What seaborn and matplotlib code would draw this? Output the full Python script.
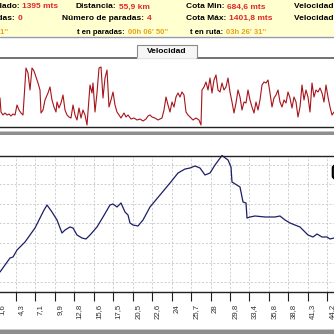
import matplotlib
matplotlib.use("Agg")
import matplotlib.pyplot as plt
import matplotlib.transforms as mtransforms
from matplotlib.patches import Rectangle, FancyBboxPatch
from matplotlib.text import Annotation
import pandas as pd
import seaborn as sns

# ---- data -------------------------------------------------------------
# speed profile: time (min) and speed (km/h)
vel_t = [0, 0.5, 1.5, 2.5, 3.5, 4.5, 5.5, 6.5, 7.5, 8.5, 9.5, 10.5, 11.5, 13, 14, 15,
         16, 17, 18, 19, 20, 20.5, 21.5, 22.5, 24, 25, 26, 27, 28, 28.5, 29.5, 30.5,
         31.5, 32.5, 33.5, 34.5, 35.5, 36.5, 37.5, 38.5, 39.5, 40.5, 41.5, 42.5, 43.5,
         44, 45, 46, 46.5, 47.5, 48.5, 49.5, 50.5, 51.5, 52.5, 53.5, 54.5, 55.5, 56.5,
         57.5, 58.5, 59.5, 60.5, 62, 63, 64, 65.5, 67, 68.5, 70, 71.5, 73, 74, 75, 76,
         77.5, 79, 80, 81, 82, 83, 84, 85, 86, 87, 88, 89, 90, 91, 92, 93, 94, 95, 96.5,
         98, 99.5, 100.5, 101, 102, 103, 104, 105, 106, 107, 108, 109, 110, 111, 112,
         113, 114, 115, 116, 117, 118, 119, 120, 121, 122, 123, 124, 125, 126, 127, 128,
         129, 130, 131, 132, 133, 134, 135, 136, 137, 138, 139, 140, 141, 142, 143, 144,
         145, 146, 147, 148, 149, 150, 151, 152, 153, 154, 155, 156, 157, 158, 159, 160,
         161, 162, 163, 164, 165, 166, 167]
vel = [23.2, 12.0, 9.6, 11.2, 9.6, 10.4, 8.8, 10.4, 9.6, 17.6, 13.6, 11.2, 9.6, 47.2,
       43.2, 29.6, 47.2, 44.8, 40.0, 35.2, 29.6, 11.2, 13.6, 21.6, 27.2, 32.0, 21.6,
       16.0, 12.0, 20.0, 15.2, 19.2, 25.6, 13.6, 9.6, 8.0, 7.2, 17.6, 9.6, 5.6, 15.2,
       7.2, 13.6, 9.6, 1.6, 12.0, 33.6, 27.2, 35.2, 12.0, 27.2, 47.2, 48.0, 23.2, 39.2,
       45.6, 16.0, 21.6, 28.0, 17.6, 12.0, 9.6, 7.2, 11.2, 8.0, 9.6, 6.4, 7.2, 5.6, 6.4,
       4.8, 6.4, 8.8, 9.6, 8.0, 7.2, 5.6, 6.4, 7.2, 13.6, 24.0, 17.6, 12.0, 20.0, 16.0,
       24.0, 27.2, 24.0, 28.0, 25.6, 12.0, 9.6, 8.0, 5.6, 7.2, 5.6, 1.6, 29.6, 32.0,
       36.0, 29.6, 39.2, 27.2, 37.6, 41.6, 29.6, 28.0, 35.2, 29.6, 32.0, 39.2, 28.0,
       20.0, 11.2, 19.2, 29.6, 24.0, 13.6, 20.0, 19.2, 29.6, 21.6, 16.0, 11.2, 20.0,
       13.6, 21.6, 33.6, 36.0, 35.2, 37.6, 27.2, 16.0, 23.2, 25.6, 29.6, 20.0, 16.0,
       21.6, 19.2, 28.0, 23.2, 15.2, 24.0, 20.0, 8.0, 16.0, 33.6, 21.6, 29.6, 24.0,
       12.0, 35.2, 24.0, 29.6, 28.0, 31.2, 27.2, 20.0, 33.6, 24.0, 16.0, 9.6, 12.0]

# altitude profile: time (min) and altitude (m)
alt_t = [0, 2.5, 5, 6.5, 8.5, 10, 12.5, 15, 17.5, 20, 22, 23.5, 26, 28.5, 31, 32.5,
         35, 36.5, 38.5, 41, 43, 45, 48.5, 51.5, 55, 56.5, 58.5, 60.5, 62.5, 64, 65,
         66.5, 69, 71.5, 75, 80, 85, 89, 92.5, 95, 97.5, 100, 102.5, 105, 107.5, 111,
         114, 115.5, 116, 120, 121.5, 123, 123.5, 125, 127.5, 132.5, 137.5, 140, 142.5,
         145, 150, 154, 156.5, 158.5, 161, 163.5, 165, 167]
alt = [789.7, 826.5, 863.2, 868.5, 905.0, 921.0, 947.3, 984.1, 1020.9, 1073.4,
       1115.0, 1141.7, 1104.9, 1062.9, 994.6, 1010.3, 1026.1, 1020.9, 984.1, 968.3,
       963.1, 984.1, 1026.1, 1078.7, 1141.7, 1147.0, 1131.2, 1152.2, 1104.9, 1089.2,
       1047.1, 1036.6, 1031.4, 1062.9, 1131.2, 1194.2, 1257.3, 1309.8, 1330.8,
       1336.1, 1346.6, 1336.1, 1299.3, 1309.8, 1351.8, 1401.8, 1378.1, 1341.3,
       1262.5, 1236.3, 1157.5, 1152.2, 1073.4, 1078.7, 1083.9, 1078.7, 1078.7,
       1083.9, 1062.9, 1047.1, 1026.1, 984.1, 973.6, 989.3, 973.6, 973.6, 963.1, 968.3]

dist_labels = ["1,6", "4,3", "7,1", "9,9", "12,8", "15,6", "17,5", "20,5", "22,6",
               "24", "25,7", "28", "29,8", "33,4", "35,8", "38,8", "41,3", "44,2"]

alt_min, alt_max = 684.6, 1401.8

# summary header: (label, value, value colour) per row and column
RED, GOLD = "#e0282c", "#e6a21c"
header_left = [("Desnivel acumulado:", "1395 mts", RED),
               ("Paradas:", "0", RED)]
header_mid = [("Distancia:", "55,9 km", RED),
              ("Número de paradas:", "4", RED),
              ("t en paradas:", "00h 06' 50''", GOLD)]
header_right = [("Cota Min:", "684,6 mts", RED),
                ("Cota Máx:", "1401,8 mts", RED),
                ("t en ruta:", "03h 26' 31''", GOLD)]
header_far = ["Velocidad media:", "Velocidad máxima:"]
total_time = "03h 33' 21''"

# ---- figure -----------------------------------------------------------
sns.set_style("white")
plt.rcParams["font.family"] = ["Liberation Sans", "DejaVu Sans"]

W = H = 334
fig = plt.figure(figsize=(W / 100, H / 100), dpi=100)
fig.patch.set_facecolor("white")


def fy(y):
    return 1 - y / H


def fx(x):
    return x / W


# header band
fig.add_artist(Rectangle((0, fy(36)), 1, 36 / H, transform=fig.transFigure,
                         facecolor="#ffffcf", edgecolor="none", zorder=0))
fig.add_artist(plt.Line2D([0, 1], [fy(36.5), fy(36.5)], transform=fig.transFigure,
                          color="#9a9a9a", lw=1.0))

rows_y = [7, 18.5, 32]
row_fs = [6.0, 6.0, 5.5]


def pair_right(x_end, y, label, value, color, fs):
    t = fig.text(fx(x_end), fy(y), label, ha="right", va="center",
                 fontsize=fs, fontweight="bold", color="black")
    fig.text(fx(x_end + 2.5), fy(y), value, ha="left", va="center",
             fontsize=fs, fontweight="bold", color=color)
    return t


def pair_left(x_start, y, label, value, color, fs):
    t = fig.text(fx(x_start), fy(y), label, ha="left", va="center",
                 fontsize=fs, fontweight="bold", color="black")
    fig.add_artist(Annotation(
        value, xy=(1, 0.5), xycoords=t, xytext=(2.0, 0), textcoords="offset points",
        ha="left", va="center", fontsize=fs, fontweight="bold", color=color,
        annotation_clip=False))
    return t


pair_right(19.5, rows_y[0], *header_left[0], row_fs[0])
pair_right(15.5, rows_y[1], *header_left[1], row_fs[1])
fig.text(fx(8.5), fy(rows_y[2]), total_time, ha="right", va="center",
         fontsize=row_fs[2], fontweight="bold", color=GOLD)

for (lab, val, col), y, xs, fs in zip(header_mid, rows_y, [76, 62, 77], row_fs):
    pair_left(xs, y, lab, val, col, fs)
for (lab, val, col), y, xs, fs in zip(header_right, rows_y, [186, 186, 190], row_fs):
    pair_left(xs, y, lab, val, col, fs)
for lab, y in zip(header_far, rows_y[:2]):
    fig.text(fx(293.5), fy(y), lab, ha="left", va="center",
             fontsize=row_fs[0], fontweight="bold", color="black")

# shared time axis placement (axes start a little left of the canvas)
x_left_px = -3.4
t0 = -1.7
t1 = 167
ax_left = fx(x_left_px)
ax_width = (W - x_left_px) / W
tick_step = 9.725
tick_pos = [t0 + tick_step * k for k in range(len(dist_labels))]

# ---- speed panel ------------------------------------------------------
ax_v = fig.add_axes([ax_left, fy(127), ax_width, (127 - 57.5) / H])
df_v = pd.DataFrame({"t": vel_t, "v": vel})
sns.lineplot(data=df_v, x="t", y="v", ax=ax_v, color="#a8141c", lw=0.8)
ax_v.set_xlim(t0, t1)
ax_v.set_ylim(0, 55.6)
ax_v.set_xticks([])
ax_v.set_yticks([])
ax_v.set_xlabel("")
ax_v.set_ylabel("")
for s in ["left", "right"]:
    ax_v.spines[s].set_visible(False)
ax_v.spines["top"].set_color("#5a5a5a")
ax_v.spines["top"].set_linewidth(1.2)
ax_v.spines["bottom"].set_color("#222222")
ax_v.spines["bottom"].set_linewidth(1.0)

# tab label on top of the speed panel
fig.add_artist(Rectangle((fx(137), fy(58)), 60 / W, 13 / H, transform=fig.transFigure,
                         facecolor="#f6f6f6", edgecolor="#8a8a8a", lw=0.8, zorder=5))
fig.add_artist(plt.Line2D([fx(137.6), fx(196.4)], [fy(58), fy(58)],
                          transform=fig.transFigure, color="#f6f6f6", lw=1.2, zorder=6))
fig.text(fx(167), fy(51.5), "Velocidad", ha="center", va="center", fontsize=6.0,
         fontweight="bold", color="black", zorder=7)

# separator bar between panels
fig.add_artist(Rectangle((0, fy(135)), 1, 3 / H, transform=fig.transFigure,
                         facecolor="#8e8e8e", edgecolor="none"))
fig.add_artist(Rectangle((0, fy(132)), 1, 1 / H, transform=fig.transFigure,
                         facecolor="#c4c4c4", edgecolor="none"))

# ---- altitude panel ---------------------------------------------------
ax_e = fig.add_axes([ax_left, fy(292), ax_width, (292 - 155.5) / H])
df_e = pd.DataFrame({"t": alt_t, "alt": alt})
sns.lineplot(data=df_e, x="t", y="alt", ax=ax_e, color="#1c1f66", lw=0.9)
for ln in ax_e.lines:
    ln.set_clip_on(False)
ax_e.set_xlim(t0, t1)
ax_e.set_ylim(alt_min, alt_max)
ax_e.set_xlabel("")
ax_e.set_ylabel("")

grid_frac = [(10 + 19.5 * k) / 136.5 for k in range(7)]
ax_e.set_yticks([alt_min + f * (alt_max - alt_min) for f in grid_frac])
ax_e.tick_params(axis="y", left=False, labelleft=False)
ax_e.set_xticks(tick_pos)
ax_e.set_xticklabels(dist_labels, rotation=90, fontsize=5.6, color="#303030")
ax_e.tick_params(axis="x", direction="out", length=6.5, width=0.8, color="#202020",
                 pad=2.0, bottom=True)
shift = mtransforms.ScaledTranslation(5 / 100, 0, fig.dpi_scale_trans)
for lab in ax_e.get_xticklabels():
    lab.set_va("top")
    lab.set_transform(lab.get_transform() + shift)
ax_e.grid(True, color="#c8c8c8", ls=(0, (2.5, 2.0)), lw=0.6)
for s in ["left", "right"]:
    ax_e.spines[s].set_visible(False)
for s in ["top", "bottom"]:
    ax_e.spines[s].set_color("#222222")
    ax_e.spines[s].set_linewidth(1.0)

# legend box edge at the right border
fig.add_artist(FancyBboxPatch((fx(332.8), fy(178.5)), 30 / W, 13 / H,
                              boxstyle="round,pad=0,rounding_size=0.008",
                              transform=fig.transFigure, facecolor="white",
                              edgecolor="black", lw=1.6, zorder=6))

# bottom status bar
fig.add_artist(Rectangle((0, 0), 1, 4 / H, transform=fig.transFigure,
                         facecolor="#8e8e8e", edgecolor="none"))
fig.add_artist(Rectangle((0, 4 / H), 1, 1 / H, transform=fig.transFigure,
                         facecolor="#c8c8c8", edgecolor="none"))

fig.savefig("out.png", dpi=100)
